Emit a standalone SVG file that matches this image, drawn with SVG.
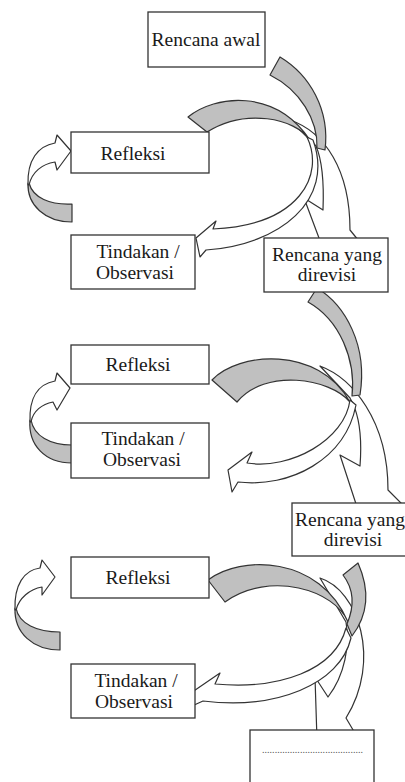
<svg xmlns="http://www.w3.org/2000/svg" width="405" height="782" viewBox="0 0 405 782">
<style>
.bg{fill:#fff}
.box{fill:#fff;stroke:#333;stroke-width:1.3}
.g{fill:#c0c0c0;stroke:#333;stroke-width:1.2;stroke-linejoin:round}
.w{fill:#fff;stroke:#333;stroke-width:1.2;stroke-linejoin:round}
.t{font-family:"Liberation Serif","Times New Roman",serif;font-size:19.5px;fill:#1a1a1a;text-anchor:middle}
.d{font-family:"Liberation Serif","Times New Roman",serif;font-size:10px;fill:#555}
</style>
<rect class="bg" x="0" y="0" width="405" height="782"/>
<g id="connectors">
  <!-- cycle 1 -->
  <path class="w" d="M290,120 C325,132 350,170 350,230 L363,246 L322,246 L304,198 L323,210 C324,185 322,160 316,146 Z"/>
  <path class="g" d="M188,117 C215,95 275,88 310,140 C295,118 245,108 207,132 Z"/>
  <path class="g" d="M270,75 L280,57 C310,75 330,110 325,150 L317,148 C318,120 300,90 270,75 Z"/>
  <path class="w" d="M307,137 C325,175 300,225 213,229 L216,221 L196,238 L200,257 L206,250 C280,245 335,200 313,140 Z"/>
  <path class="g" d="M29,183 C33,198 50,205 72,204 L72,222 C45,222 27,205 28,183 Z"/>
  <path class="w" d="M28,185 C27,160 38,146 55,143 L57,135 L71,151 L57,170 L55,162 C42,164 32,172 29,185 Z"/>
  <!-- cycle 2 -->
  <path class="w" d="M320,366 C352,378 388,420 388,490 L405,507 L357,507 L340,455 L360,466 C362,440 360,415 350,398 Z"/>
  <path class="g" d="M212,380 C238,352 318,345 350,402 C330,378 265,368 237,402 Z"/>
  <path class="g" d="M308,302 L317,288 C345,305 368,345 360,395 L352,396 C356,360 340,320 308,302 Z"/>
  <path class="w" d="M350,400 C345,440 290,470 247,463 L252,452 L228,470 L232,492 L238,482 C290,488 345,460 356,405 Z"/>
  <path class="g" d="M31,420 C34,436 50,445 72,445 L72,463 C45,463 28,445 30,420 Z"/>
  <path class="w" d="M30,422 C29,398 38,384 55,381 L57,373 L70,388 L57,410 L53,402 C42,404 33,411 31,422 Z"/>
  <!-- cycle 3 -->
  <path class="w" d="M320,578 C358,590 382,660 346,718 L359,740 L317,740 L315,677 L328,697 C345,675 350,645 346,622 Z"/>
  <path class="g" d="M208,580 C240,555 320,555 348,622 C335,590 270,570 225,602 Z"/>
  <path class="g" d="M343,575 L358,563 C370,590 368,615 352,636 L347,624 C355,605 353,588 343,575 Z"/>
  <path class="w" d="M346,628 C335,670 280,690 215,684 L220,673 L185,697 L192,706 L203,701 C275,710 340,685 351,638 Z"/>
  <path class="g" d="M16,608 C19,624 37,632 60,632 L60,650 C33,650 14,633 15,608 Z"/>
  <path class="w" d="M15,610 C14,585 24,570 40,568 L42,560 L55,577 L42,595 L42,587 C30,589 19,598 16,610 Z"/>
</g>
<g id="n_rencana_awal">
  <rect class="box" x="148" y="12" width="117" height="55"/>
  <text class="t" x="206" y="46">Rencana awal</text>
</g>
<g id="n_refleksi1">
  <rect class="box" x="71" y="132" width="138" height="41"/>
  <text class="t" x="133" y="160">Refleksi</text>
</g>
<g id="n_tindakan1">
  <rect class="box" x="71" y="235" width="124" height="54"/>
  <text class="t" x="138" y="258">Tindakan /</text>
  <text class="t" x="135" y="279">Observasi</text>
</g>
<g id="n_rencana_rev1">
  <rect class="box" x="264" y="238" width="124" height="54"/>
  <text class="t" x="327" y="261">Rencana yang</text>
  <text class="t" x="327" y="281">direvisi</text>
</g>
<g id="n_refleksi2">
  <rect class="box" x="71" y="345" width="138" height="39"/>
  <text class="t" x="138" y="371">Refleksi</text>
</g>
<g id="n_tindakan2">
  <rect class="box" x="71" y="423" width="138" height="55"/>
  <text class="t" x="143" y="445">Tindakan /</text>
  <text class="t" x="142" y="466">Observasi</text>
</g>
<g id="n_rencana_rev2">
  <rect class="box" x="292" y="503" width="124" height="53"/>
  <text class="t" x="350" y="526">Rencana yang</text>
  <text class="t" x="353" y="546">direvisi</text>
</g>
<g id="n_refleksi3">
  <rect class="box" x="71" y="557" width="138" height="41"/>
  <text class="t" x="138" y="584">Refleksi</text>
</g>
<g id="n_tindakan3">
  <rect class="box" x="71" y="664" width="124" height="54"/>
  <text class="t" x="136" y="687">Tindakan /</text>
  <text class="t" x="134" y="708">Observasi</text>
</g>
<g id="n_next">
  <rect class="box" x="250" y="730" width="124" height="60"/>
  <text class="d" x="262" y="753" textLength="101" lengthAdjust="spacing">........................................</text>
</g>
</svg>
